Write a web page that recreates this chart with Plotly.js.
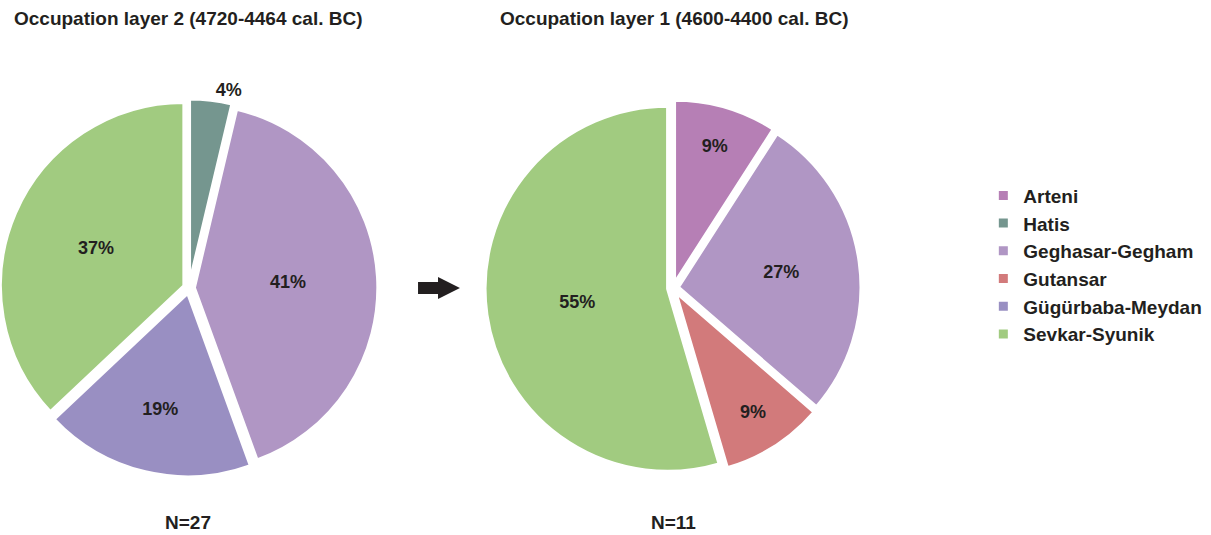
<!DOCTYPE html>
<html>
<head>
<meta charset="utf-8">
<script src="https://cdn.plot.ly/plotly-3.0.1.min.js"></script>
<style>html,body{margin:0;padding:0;background:#fff;}#chart{width:1211px;height:535px;}</style>
</head>
<body>
<div id="chart"></div>
<script>
// Categories (legend order)
const categories = ["Arteni", "Hatis", "Geghasar-Gegham", "Gutansar", "Gügürbaba-Meydan", "Sevkar-Syunik"];
const colors = ["#b67fb5", "#75968f", "#b096c4", "#d27a7b", "#998fc2", "#a1cb80"];
// Counts per occupation layer (N=27 and N=11)
const layer2Counts = [0, 1, 11, 0, 5, 10];
const layer1Counts = [1, 0, 3, 1, 0, 6];
const titles = ["Occupation layer 2 (4720-4464 cal. BC)", "Occupation layer 1 (4600-4400 cal. BC)"];
const nLabels = ["N=27", "N=11"];

const FONT = "Arial, 'Liberation Sans', sans-serif";
const dark = "#231f20";

function pieTrace(vals, domain, outsideLabels) {
  return {
    type: "pie",
    labels: categories,
    values: vals,
    sort: false,
    direction: "clockwise",
    rotation: 0,
    domain: domain,
    marker: {colors: colors, line: {color: "#ffffff", width: 3}},
    pull: vals.map(() => 0.03),
    texttemplate: vals.map(v => v > 0 ? "%{percent:.0%}" : ""),
    textposition: categories.map(c => outsideLabels.includes(c) ? "outside" : "inside"),
    insidetextorientation: "horizontal",
    textfont: {family: FONT, size: 18, color: dark, weight: "bold"},
    hoverinfo: "label+value+percent",
    showlegend: true
  };
}

const data = [
  pieTrace(layer2Counts, {x: [0.0, 0.3120], y: [0.1075, 0.8159]}, ["Hatis"]),
  pieTrace(layer1Counts, {x: [0.4005, 0.7110], y: [0.1075, 0.8159]}, [])
];

const annFont = {family: FONT, size: 19, color: dark, weight: "bold"};

const layout = {
  width: 1211, height: 535,
  margin: {l: 0, r: 0, t: 0, b: 0},
  paper_bgcolor: "#ffffff",
  font: {family: FONT, color: dark},
  showlegend: true,
  legend: {
    x: 0.812, y: 0.67, xanchor: "left", yanchor: "top",
    font: {family: FONT, size: 19, color: dark, weight: "bold"},
    itemclick: false, tracegroupgap: 0
  },
  annotations: [
    {text: titles[0], x: 188/1211, y: 1 - 19/535, xref: "paper", yref: "paper", showarrow: false,
     xanchor: "center", yanchor: "middle", font: annFont},
    {text: titles[1], x: 674/1211, y: 1 - 19/535, xref: "paper", yref: "paper", showarrow: false,
     xanchor: "center", yanchor: "middle", font: annFont},
    {text: nLabels[0], x: 188/1211, y: 1 - 522/535, xref: "paper", yref: "paper", showarrow: false,
     xanchor: "center", yanchor: "middle", font: annFont},
    {text: nLabels[1], x: 673/1211, y: 1 - 522/535, xref: "paper", yref: "paper", showarrow: false,
     xanchor: "center", yanchor: "middle", font: annFont}
  ],
  shapes: [
    {type: "path", xref: "paper", yref: "paper",
     path: "M0.3452,0.4729 L0.3617,0.4729 L0.3617,0.4822 L0.3798,0.4617 L0.3617,0.4411 L0.3617,0.4505 L0.3452,0.4505 Z",
     fillcolor: dark, line: {width: 0}}
  ]
};

Plotly.newPlot("chart", data, layout, {displayModeBar: false});
</script>
</body>
</html>
